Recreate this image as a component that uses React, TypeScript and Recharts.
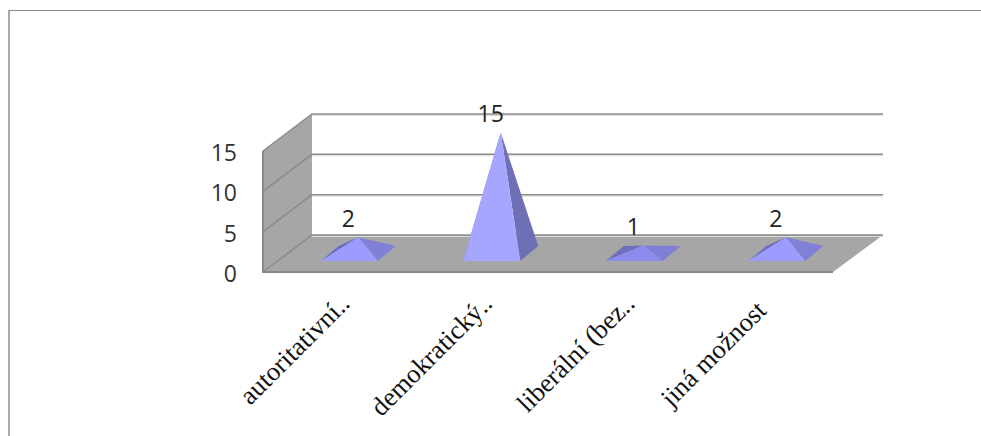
import React from "react";
import { BarChart, Bar, XAxis, YAxis, CartesianGrid, ReferenceArea, LabelList } from "recharts";

const categories = ["autoritativní..", "demokratický..", "liberální (bez..", "jiná možnost"];
const counts = [2, 15, 1, 2];
const yTicks = [0, 5, 10, 15];

const rows = categories.map((name, i) => ({ name, count: counts[i] }));

// Oblique projection of the chart box and of the pyramid bases.
const BOX_DX = 50;
const BOX_DY = 37;
const BASE_SHIFT_X = 15;
const BASE_FRONT_UP = 11;
const BASE_DX = 18;
const BASE_DY = 15;

const WALL = "#a6a6a6";
const EDGE = "#8a8a8a";

function poly(points: number[][]) {
  return points.map((p) => p.join(",")).join(" ");
}

// Side walls and floor of the box, spanning the whole plot rectangle.
function BoxShell(props: any) {
  const { x, y, width, height } = props;
  const bottom = y + height;
  const right = x + width;
  return (
    <g>
      <polygon points={poly([[x, y], [x + BOX_DX - 1, y - BOX_DY], [x + BOX_DX - 1, bottom - BOX_DY], [x, bottom]])} fill={WALL} />
      <polygon
        points={poly([[x, bottom], [x + BOX_DX - 1, bottom - BOX_DY], [right + BOX_DX, bottom - BOX_DY], [right, bottom]])}
        fill={WALL}
      />
      <polyline points={poly([[x, y], [x, bottom], [right, bottom]])} fill="none" stroke={EDGE} strokeWidth={2} />
    </g>
  );
}

// One value level: the diagonal across the side wall, then the line along the back.
function LevelLine(props: any) {
  const { x1, x2, y1 } = props;
  return (
    <g fill="none">
      <polyline
        points={poly([[x1 + BOX_DX - 1, y1 - BOX_DY + 1.5], [x2 + BOX_DX, y1 - BOX_DY + 1.5]])}
        stroke="#dddddd"
        strokeWidth={1}
      />
      <polyline
        points={poly([[x1, y1], [x1 + BOX_DX - 1, y1 - BOX_DY], [x2 + BOX_DX, y1 - BOX_DY]])}
        stroke={EDGE}
        strokeWidth={1.5}
      />
    </g>
  );
}

function shades(h: number) {
  if (h > 40) return { front: "#a6a6ff", left: "#6f6fb6", right: "#6f6fb6" };
  if (h > 10) return { front: "#9c9cff", left: "#6a6ac0", right: "#8080d6" };
  return { front: "#8c8cec", left: "#6f6fc0", right: "#7f7fd8" };
}

// A four-sided pyramid standing on the floor, its height taken from the bar rectangle.
function Pyramid(props: any) {
  const { x, y, width, height } = props;
  const left = x + BASE_SHIFT_X;
  const right = left + width;
  const base = y + height - BASE_FRONT_UP;
  const apex = [left + width / 2 + BASE_DX / 2, base - BASE_DY / 2 - height];
  const c = shades(height);
  return (
    <g>
      <polygon points={poly([[left, base], [left + BASE_DX, base - BASE_DY], apex])} fill={c.left} />
      <polygon points={poly([[right, base], [right + BASE_DX, base - BASE_DY], apex])} fill={c.right} />
      <polygon points={poly([[left, base], [right, base], apex])} fill={c.front} />
    </g>
  );
}

function ValueLabel(props: any) {
  const { x, y, width, value } = props;
  return (
    <text
      x={x + width / 2 + BASE_SHIFT_X - 1}
      y={y - 38}
      textAnchor="middle"
      dominantBaseline="central"
      fontFamily="'Open Sans', sans-serif"
      fontSize={23}
      fill="#222"
    >
      {value}
    </text>
  );
}

// Shortened category names reach further along the slant than complete ones.
function CategoryTick(props: any) {
  const { x, y, payload } = props;
  const shortened = String(payload.value).endsWith("..");
  const dx = shortened ? 17 : 6;
  const dy = shortened ? 25 : 32;
  return (
    <text
      transform={`translate(${x + dx},${y + dy}) rotate(-45)`}
      textAnchor="end"
      fontFamily="'Liberation Serif', serif"
      fontSize={26.5}
      fill="#111"
    >
      {payload.value}
    </text>
  );
}

function ValueTick(props: any) {
  const { x, y, payload } = props;
  return (
    <text
      x={x - 18}
      y={y + 1}
      textAnchor="end"
      dominantBaseline="central"
      fontFamily="'Open Sans', sans-serif"
      fontSize={23}
      fill="#333"
    >
      {payload.value}
    </text>
  );
}

export default function App() {
  return (
    <div style={{ position: "fixed", left: 0, top: 0, width: 981, height: 436, background: "#fff", overflow: "hidden" }}>
      <div
        style={{
          position: "absolute",
          left: 8,
          top: 10,
          right: 0,
          bottom: 0,
          borderTop: "1px solid #8c8c8c",
          borderLeft: "2px solid #aaaaaa",
        }}
      />
      <BarChart
        width={981}
        height={436}
        data={rows}
        barCategoryGap="30%"
        margin={{ left: 203, right: 148, top: 151, bottom: 104 }}
        style={{ position: "absolute", left: 0, top: 0 }}
      >
        <ReferenceArea y1={0} y2={15} ifOverflow="visible" shape={BoxShell} zIndex={-200} />
        <CartesianGrid vertical={false} horizontal={LevelLine} />
        <XAxis dataKey="name" axisLine={false} tickLine={false} height={60} interval={0} tick={CategoryTick} />
        <YAxis domain={[0, 15]} ticks={yTicks} axisLine={false} tickLine={false} width={60} tick={ValueTick} />
        <Bar dataKey="count" isAnimationActive={false} shape={Pyramid}>
          <LabelList dataKey="count" content={ValueLabel} />
        </Bar>
      </BarChart>
    </div>
  );
}
